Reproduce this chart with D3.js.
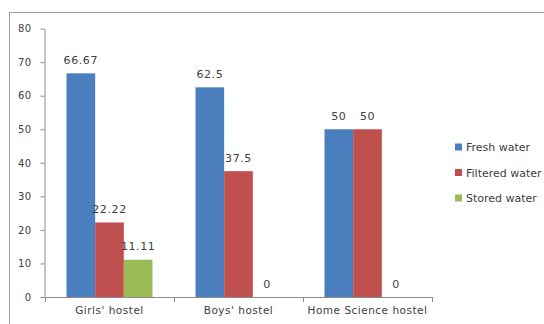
<!DOCTYPE html>
<html>
<head>
<meta charset="utf-8">
<script src="https://cdn.jsdelivr.net/npm/d3@7"></script>
<style>
  body { margin: 0; background: #fff; }
  svg text { font-family: "DejaVu Sans", Verdana, sans-serif; fill: #404040; }
</style>
</head>
<body>
<div id="graph"></div>
<script>
// data
var categories = ["Girls' hostel", "Boys' hostel", "Home Science hostel"];
var seriesNames = ["Fresh water", "Filtered water", "Stored water"];
var freshWater = [66.67, 62.5, 50];
var filteredWater = [22.22, 37.5, 50];
var storedWater = [11.11, 0, 0];
var valueLabels = [["66.67", "62.5", "50"], ["22.22", "37.5", "50"], ["11.11", "0", "0"]];
var yTicks = [0, 10, 20, 30, 40, 50, 60, 70, 80];

var colors = ["#4a7ebf", "#c0504d", "#9bbb59"];
var allSeries = [freshWater, filteredWater, storedWater];

var w = 544, h = 324;

var svg = d3.select("#graph")
    .append("svg")
    .attr("width", w)
    .attr("height", h);

// chart frame, runs off the right and bottom edge
svg.append("rect")
    .attr("x", 9.5)
    .attr("y", 12.5)
    .attr("width", 700)
    .attr("height", 400)
    .attr("fill", "#fff")
    .attr("stroke", "#a0a0a0");

var x0 = d3.scaleBand()
    .domain(categories)
    .range([45, 432])
    .paddingInner(0)
    .paddingOuter(0);

var x1 = d3.scaleBand()
    .domain(d3.range(seriesNames.length))
    .range([0, x0.bandwidth()])
    .paddingInner(0)
    .paddingOuter(0.75);

var y = d3.scaleLinear()
    .domain([0, 80])
    .range([297, 28.6]);

// y axis
var yAxis = svg.append("g")
    .attr("transform", "translate(44.5,0)")
    .call(d3.axisLeft(y).tickValues(yTicks).tickSize(4).tickSizeOuter(0).tickPadding(9));
yAxis.select(".domain").attr("stroke", "#8c8c8c");
yAxis.selectAll(".tick line").attr("stroke", "#8c8c8c");
yAxis.selectAll(".tick text")
    .attr("font-size", 10)
    .attr("fill", "#404040")
    .attr("letter-spacing", 0.4)
    .attr("font-family", "DejaVu Sans, sans-serif");

// bars
var groups = svg.selectAll("g.series")
    .data(allSeries)
    .enter()
    .append("g")
    .attr("class", "series")
    .attr("fill", function(d, i) { return colors[i]; });

groups.each(function(vals, si) {
    var g = d3.select(this);
    g.selectAll("rect")
        .data(vals)
        .enter()
        .append("rect")
        .attr("x", function(d, ci) { return x0(categories[ci]) + x1(si); })
        .attr("y", function(d) { return y(d); })
        .attr("width", x1.bandwidth())
        .attr("height", function(d) { return y(0) - y(d); });

    g.selectAll("text")
        .data(vals)
        .enter()
        .append("text")
        .attr("x", function(d, ci) { return x0(categories[ci]) + x1(si) + x1.bandwidth() / 2; })
        .attr("y", function(d) { return y(d) - 9.5; })
        .attr("text-anchor", "middle")
        .attr("font-size", 11)
        .attr("letter-spacing", 0.6)
        .text(function(d, ci) { return valueLabels[si][ci]; });
});

// x axis: line, ticks between categories, labels
var xAxis = svg.append("g").attr("class", "xaxis");
xAxis.append("line")
    .attr("x1", x0.range()[0])
    .attr("x2", x0.range()[1])
    .attr("y1", y(0) + 0.5)
    .attr("y2", y(0) + 0.5)
    .attr("stroke", "#8c8c8c");

var bounds = categories.map(function(c) { return x0(c); }).concat([x0.range()[1]]);
xAxis.selectAll("line.tick")
    .data(bounds)
    .enter()
    .append("line")
    .attr("class", "tick")
    .attr("x1", function(d) { return Math.round(d) + 0.5; })
    .attr("x2", function(d) { return Math.round(d) + 0.5; })
    .attr("y1", y(0))
    .attr("y2", y(0) + 5)
    .attr("stroke", "#8c8c8c");

xAxis.selectAll("text")
    .data(categories)
    .enter()
    .append("text")
    .attr("x", function(d) { return x0(d) + x0.bandwidth() / 2; })
    .attr("y", 314)
    .attr("text-anchor", "middle")
    .attr("font-size", 10.5)
    .attr("letter-spacing", 0.5)
    .text(function(d) { return d; });

// legend
var legend = svg.selectAll("g.legend")
    .data(seriesNames)
    .enter()
    .append("g")
    .attr("class", "legend")
    .attr("transform", function(d, i) { return "translate(455," + (147 + i * 25.5) + ")"; });

legend.append("rect")
    .attr("x", 0)
    .attr("y", -3.5)
    .attr("width", 7)
    .attr("height", 7)
    .attr("fill", function(d, i) { return colors[i]; });

legend.append("text")
    .attr("x", 11)
    .attr("y", 4)
    .attr("font-size", 11)
    .text(function(d) { return d; });
</script>
</body>
</html>
